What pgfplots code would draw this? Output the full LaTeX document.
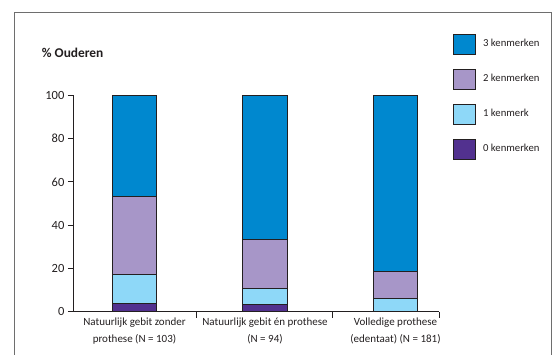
\documentclass[border=0pt]{standalone}
\usepackage{fontspec}
\setmainfont{Carlito}
\usepackage{pgfplots}
\pgfplotsset{compat=1.18}
\definecolor{c3}{RGB}{0,136,207}
\definecolor{c2}{RGB}{167,150,200}
\definecolor{c1}{RGB}{142,216,248}
\definecolor{c0}{RGB}{82,49,143}
\definecolor{txt}{RGB}{35,31,32}
\definecolor{framec}{RGB}{110,110,110}
\begin{document}
\begin{tikzpicture}
\path[use as bounding box] (-134.5pt,-42.3pt) rectangle ++(556pt,354pt);
\draw[framec, line width=0.9pt] (-120.2pt,-60pt) -- (-120.2pt,299pt) -- (417pt,299pt) -- (417pt,-60pt);
\node[anchor=west, font=\bfseries\fontsize{13.4}{16}\selectfont, text=txt, inner sep=0pt] at (-92.8pt,258.4pt) {\% Ouderen};
\begin{axis}[
  at={(0pt,0pt)}, anchor=origin,
  x=130.5pt, y=2.164pt,
  xmin=-0.464, xmax=2.336, ymin=0, ymax=100,
  axis x line=bottom, axis y line=left,
  axis line style={-, line width=1pt, txt},
  x axis line style={shorten <=-4.7pt},
  ybar stacked, bar width=0.34,
  ytick={0,20,...,100},
  tick align=outside, major tick length=6pt,
  tick style={line width=1pt, txt},
  /pgf/number format/assume math mode=true,
  yticklabel style={font=\fontsize{12.5}{14}\selectfont, text=txt},
  xtick={0.477,1.519,2.336}, xticklabels={},
  extra x ticks={0,1,2},
  extra x tick labels={{Natuurlijk gebit zonder\\prothese (N = 103)},{Natuurlijk gebit én prothese\\(N = 94)},{Volledige prothese\\(edentaat) (N = 181)}},
  extra x tick style={major tick length=0pt, xticklabel style={align=center, font=\fontsize{11}{16.7}\selectfont, text=txt, yshift=-3pt}},
  legend style={at={(1.0356,1.2865)}, anchor=north west, draw=none, fill=none, inner sep=0pt, row sep=14.2pt, font=\fontsize{10.7}{12}\selectfont, text=txt, nodes={inner sep=0pt}, /tikz/every odd column/.style={column sep=7.7pt}},
  legend cell align=left,
  reverse legend,
  legend image code/.code={\draw[#1, draw=txt, line width=0.8pt] (0pt,-10pt) rectangle (22pt,10pt);},
  clip=false,
]
\addplot[fill=c0, draw=txt, line width=0.8pt] coordinates {(0,4) (1,3.4) (2,0)};
\addplot[fill=c1, draw=txt, line width=0.8pt] coordinates {(0,13.2) (1,7.2) (2,6.3)};
\addplot[fill=c2, draw=txt, line width=0.8pt] coordinates {(0,36) (1,22.8) (2,12.2)};
\addplot[fill=c3, draw=txt, line width=0.8pt] coordinates {(0,46.8) (1,66.6) (2,81.5)};
\legend{0 kenmerken,1 kenmerk,2 kenmerken,3 kenmerken}
\end{axis}
\end{tikzpicture}
\end{document}
